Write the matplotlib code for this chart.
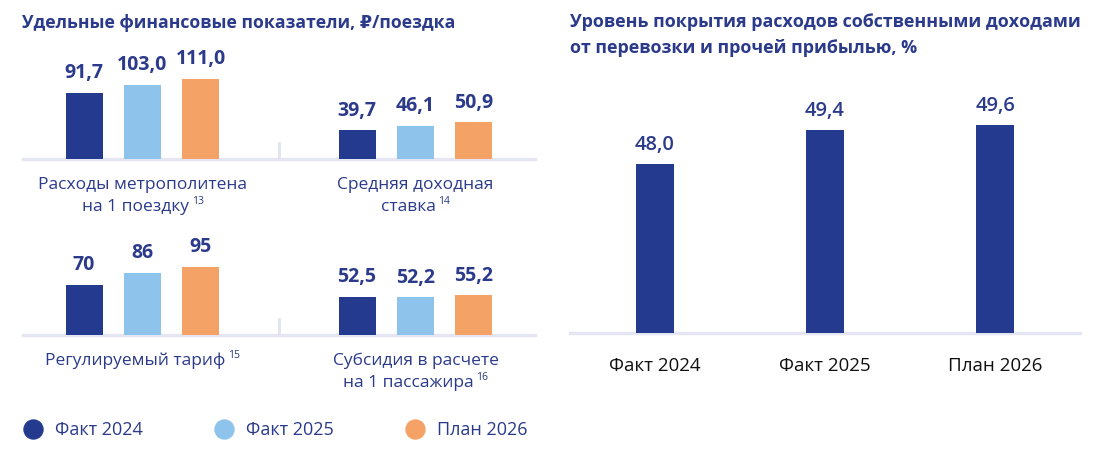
import matplotlib
matplotlib.use("Agg")
import matplotlib.pyplot as plt
from matplotlib.lines import Line2D

plt.rcParams['font.family'] = ['Open Sans', 'DejaVu Sans']

# ---------------- data ----------------
series = ["Факт 2024", "Факт 2025", "План 2026"]
colors = ["#233a8f", "#8ec4eb", "#f5a266"]

top_categories = [("Расходы метрополитена", "на 1 поездку", "13"),
                  ("Средняя доходная", "ставка", "14")]
top_values = [[91.7, 103.0, 111.0],   # Расходы метрополитена на 1 поездку
              [39.7, 46.1, 50.9]]     # Средняя доходная ставка
top_decimals = 1

bottom_categories = [("Регулируемый тариф", None, "15"),
                     ("Субсидия в расчете", "на 1 пассажира", "16")]
bottom_values = [[70, 86, 95],        # Регулируемый тариф
                 [52.5, 52.2, 55.2]]  # Субсидия в расчете на 1 пассажира
bottom_decimals = [0, 1]

coverage_labels = ["Факт 2024", "Факт 2025", "План 2026"]
coverage_values = [48.0, 49.4, 49.6]

left_title = "Удельные финансовые показатели, ₽/поездка"
right_title = "Уровень покрытия расходов собственными доходами\nот перевозки и прочей прибылью, %"

# ---------------- style ----------------
TXT = "#2b3a8a"
BASE = "#e4e7f3"
SEP = "#e1e4ee"
W, H, DPI = 1100, 457, 100
PT = 72 / DPI  # points per pixel

fig = plt.figure(figsize=(W / DPI, H / DPI), dpi=DPI)


def rect(x0, x1, ybot, ytop):
    return [x0 / W, 1 - ybot / H, (x1 - x0) / W, (ybot - ytop) / H]


def fmt(v, d):
    return (f"{v:.{d}f}").replace(".", ",")


sup_jobs = []


def panel(ax, values, cats, decs, ymax):
    ax.set_xlim(-0.438, 1.438)
    ax.set_ylim(0, ymax)
    off = 0.214
    bw = 0.1355
    for gi, vals in enumerate(values):
        d = decs[gi] if isinstance(decs, list) else decs
        for si, v in enumerate(vals):
            x = gi + (si - 1) * off
            ax.bar(x, v, width=bw, color=colors[si], zorder=2)
            ax.annotate(fmt(v, d), xy=(x, v), xytext=(0, 7), textcoords="offset points",
                        ha="center", va="bottom", fontsize=14, fontweight="bold", color=TXT)
    ax.axhline(0, color=BASE, lw=2.4, zorder=1, clip_on=False)
    ax.axvline(0.5, ymin=0, ymax=16 / 119, color=SEP, lw=2, zorder=1)
    for s in ax.spines.values():
        s.set_visible(False)
    ax.set_xticks([])
    ax.set_yticks([])
    ax.patch.set_alpha(0)
    for gi, (l1, l2, sup) in enumerate(cats):
        t1 = ax.annotate(l1, xy=(gi, 0), xytext=(0, -26 * PT), textcoords="offset points",
                         ha="center", va="center", fontsize=12.5, color=TXT)
        last = t1
        last_dy = 26
        if l2:
            t2 = ax.annotate(l2, xy=(gi, 0), xytext=(0, -48 * PT), textcoords="offset points",
                             ha="center", va="center", fontsize=12.5, color=TXT)
            last = t2
            last_dy = 48
        ts = ax.annotate(sup, xy=(gi, 0), xytext=(0, -(last_dy - 6) * PT), textcoords="offset points",
                         ha="left", va="center", fontsize=7.5, color=TXT)
        sup_jobs.append((last, ts, last_dy))


ax1 = fig.add_axes(rect(23, 535, 159, 40))
panel(ax1, top_values, top_categories, top_decimals, 119 / 0.72)
ax2 = fig.add_axes(rect(23, 535, 335, 216))
panel(ax2, bottom_values, bottom_categories, bottom_decimals, 119 / 0.72)

# right chart
ax3 = fig.add_axes(rect(570, 1080, 333, 70))
xs = range(len(coverage_values))
ax3.bar(xs, coverage_values, width=0.218, color=colors[0], zorder=2)
ax3.set_xlim(-0.5, 2.5)
ax3.set_ylim(41.07, 41.07 + 263 / 24.4)
for x, v in zip(xs, coverage_values):
    ax3.annotate(fmt(v, 1), xy=(x, v), xytext=(0, 6.5), textcoords="offset points",
                 ha="center", va="bottom", fontsize=14.5, fontweight="semibold", color=TXT)
ax3.axhline(41.07, color=BASE, lw=2.4, zorder=1, clip_on=False)
for s in ax3.spines.values():
    s.set_visible(False)
ax3.set_yticks([])
ax3.set_xticks(list(xs))
ax3.set_xticklabels(coverage_labels, fontsize=13.5, color="#111111")
ax3.tick_params(axis="x", length=0, pad=17)
ax3.patch.set_alpha(0)

# titles
fig.text(22 / W, 1 - 23 / H, left_title, fontsize=12.7, fontweight="bold", color=TXT,
         ha="left", va="center")
fig.text(570 / W, 1 - 35 / H, right_title, fontsize=12.9, fontweight="bold", color=TXT,
         ha="left", va="center", linespacing=1.55)

# legend
handles = [Line2D([], [], marker="o", linestyle="none", markersize=19 * PT,
                  markerfacecolor=c, markeredgecolor=c) for c in colors]
fig.legend(handles, series, loc="center left", bbox_to_anchor=(24 / W, 1 - 430 / H),
           ncol=3, frameon=False, fontsize=13, labelcolor=TXT, handlelength=1.0,
           handletextpad=0.72, columnspacing=4.0, borderpad=0, borderaxespad=0)

# place superscripts after the text and center the combined label
fig.canvas.draw()
r = fig.canvas.get_renderer()
gap = 3
for main, sup, dy in sup_jobs:
    wm = main.get_window_extent(r).width
    ws = sup.get_window_extent(r).width
    total = wm + gap + ws
    main.set_ha("left")
    main.xyann = (-total / 2 * PT, -dy * PT)
    sup.xyann = ((-total / 2 + wm + gap) * PT, sup.xyann[1])

fig.savefig("out.png", dpi=DPI)
